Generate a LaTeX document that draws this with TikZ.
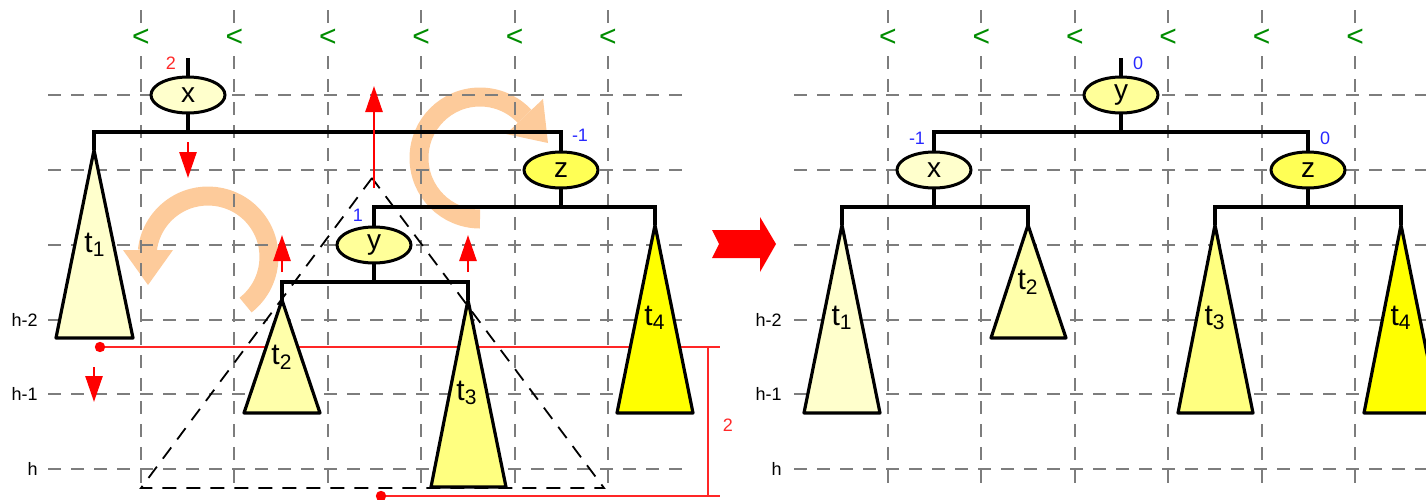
\documentclass[tikz,border=0pt]{standalone}
\usepackage{fontspec}
\setmainfont{Liberation Sans}
\usetikzlibrary{arrows.meta, positioning, shapes.geometric}

\definecolor{peach}{RGB}{253,203,155}
\definecolor{gridgray}{RGB}{125,125,125}
\definecolor{tone1}{RGB}{255,255,204}
\definecolor{tone2}{RGB}{255,255,170}
\definecolor{tone3}{RGB}{255,255,128}
\definecolor{tone4}{RGB}{255,255,0}
\definecolor{nodex}{RGB}{255,255,204}
\definecolor{nodey}{RGB}{255,255,153}
\definecolor{nodez}{RGB}{255,255,85}
\definecolor{bfblue}{RGB}{40,40,255}
\definecolor{bfred}{RGB}{255,40,40}
\definecolor{lessgreen}{RGB}{0,140,0}

\begin{document}
\begin{tikzpicture}[
    x=0.5pt, y=-0.5pt,
    avlnode/.style={ellipse, draw, line width=1.5pt, minimum width=37pt, minimum height=18pt, inner sep=0pt, outer sep=0pt, font=\fontsize{14}{14}\selectfont},
    branch/.style={line width=1.6pt},
    subtree/.style={draw, line width=1.6pt, line join=round},
    tlabel/.style={inner sep=0pt, font=\fontsize{15}{15}\selectfont},
    bf/.style={inner sep=0pt, font=\fontsize{9}{9}\selectfont},
    heightlab/.style={inner sep=0pt, anchor=east, font=\fontsize{9}{9}\selectfont},
    gridline/.style={draw=gridgray, line width=1pt, dash pattern=on 6.5pt off 5pt},
    lessmark/.style={text=lessgreen, fill=white, inner sep=0.5pt, font=\fontsize{15}{15}\selectfont},
    hint/.style={draw=red, line width=1.3pt, -{Triangle[length=13pt, width=8.5pt]}},
    rotarrow/.style={draw=peach, line width=9.5pt},
    dimline/.style={draw=red!85!white, line width=0.8pt}
]
    \useasboundingbox (0,0) rectangle (1426,499);

    % rotation hints
    \draw[rotarrow] ([shift={(-52:30.5pt)}]208,257) arc[start angle=-52, end angle=174, radius=30.5pt];
    \fill[peach] (123,250) -- (173,250) -- (148,285) -- cycle;
    \draw[rotarrow] ([shift={(270:30.5pt)}]480,158) arc[start angle=270, end angle=43, radius=30.5pt];
    \fill[peach] (543,99) -- (506,134) -- (548,143) -- cycle;

    % grid
    \foreach \gx [count=\i] in {141,234.4,327.8,421.2,514.6,608,888,981.4,1074.8,1168.2,1261.6,1355} {
        \draw[gridline] (\gx,10) -- (\gx,485);
        \node[lessmark] (less\i) at (\gx,38) {\textless};
    }
    \foreach \gy in {95,170,245,319.5,394,469} {
        \draw[gridline] (48,\gy) -- (690,\gy);
        \draw[gridline] (794,\gy) -- (1426,\gy);
    }
    \node[heightlab] (hl2) at (38,320) {h-2};
    \node[heightlab] (hl1) at (38,394) {h-1};
    \node[heightlab] (hl0) at (38,469) {h};
    \node[heightlab] (hr2) at (782,320) {h-2};
    \node[heightlab] (hr1) at (782,394) {h-1};
    \node[heightlab] (hr0) at (782,469) {h};

    % height difference
    \coordinate (dimtopl) at (100,347);
    \coordinate (dimtopr) at (720,347);
    \coordinate (dimbotl) at (381,496);
    \coordinate (dimbotr) at (720,496);
    \draw[dimline] (dimtopl) -- (dimtopr);
    \draw[dimline] (dimbotl) -- (dimbotr);
    \draw[dimline] (dimtopr) ++(-12,0) -- ++(0,149);
    \fill[red] (dimtopl) circle[radius=2.6pt];
    \fill[red] (dimbotl) circle[radius=2.6pt];
    \node[bf, text=bfred] (dimlab) at (728,425) {2};

    \draw[line width=0.9pt, dash pattern=on 7pt off 5pt] (372,178) -- (141,488) -- (604,488) -- cycle;

    % before: unbalanced at x
    \draw[subtree, fill=tone1] (94,150) coordinate (t1l) -- (56,338) -- (133,338) -- cycle;
    \draw[subtree, fill=tone2] (282,300) coordinate (t2l) -- (244,413) -- (320,413) -- cycle;
    \draw[subtree, fill=tone3] (468,300) coordinate (t3l) -- (431,487) -- (506,487) -- cycle;
    \draw[subtree, fill=tone4] (655,225) coordinate (t4l) -- (617,413) -- (693,413) -- cycle;
    \node[tlabel] (t1llab) at (95,245) {t\textsubscript{1}};
    \node[tlabel] (t2llab) at (282,357) {t\textsubscript{2}};
    \node[tlabel] (t3llab) at (467,393) {t\textsubscript{3}};
    \node[tlabel] (t4llab) at (655,318) {t\textsubscript{4}};

    \coordinate (topl) at (188,58);
    \node[avlnode, fill=nodex] (xl) at (188,95) {x};
    \node[avlnode, fill=nodez] (zl) at (561,170) {z};
    \node[avlnode, fill=nodey] (yl) at (374,245) {y};
    \draw[branch] (topl) -- (xl);
    \draw[branch] (xl.south) -- ++(0,19);
    \draw[branch] (t1l) -- ++(0,-18) -| (zl.north);
    \draw[branch] (zl.south) -- ++(0,19);
    \draw[branch] (yl.north) -- ++(0,-20) -| (t4l);
    \draw[branch] (yl.south) -- ++(0,19);
    \draw[branch] (t2l) -- ++(0,-18) -| (t3l);
    \node[bf, text=bfred] (bfxl) at (171,63) {2};
    \node[bf, text=bfblue] (bfzl) at (580,135) {-1};
    \node[bf, text=bfblue] (bfyl) at (358,215) {1};

    \draw[hint] (188,142) -- ++(0,36);
    \draw[hint] (94,367) -- ++(0,35);
    \draw[hint] (282,272) -- ++(0,-37);
    \draw[hint] (468,272) -- ++(0,-37);
    \draw[hint] (374,188) -- ++(0,-102);

    \fill[red] (712,230) -- (760,230) -- (760,217) -- (776,244) -- (760,272) -- (760,258) -- (712,258) -- (719,244) -- cycle;

    % after: y on top
    \draw[subtree, fill=tone1] (842,225) coordinate (t1r) -- (804,413) -- (880,413) -- cycle;
    \draw[subtree, fill=tone2] (1028,225) coordinate (t2r) -- (991,338) -- (1066,338) -- cycle;
    \draw[subtree, fill=tone3] (1215,225) coordinate (t3r) -- (1178,413) -- (1253,413) -- cycle;
    \draw[subtree, fill=tone4] (1401,225) coordinate (t4r) -- (1364,413) -- (1439,413) -- cycle;
    \node[tlabel] (t1rlab) at (842,318) {t\textsubscript{1}};
    \node[tlabel] (t2rlab) at (1028,282) {t\textsubscript{2}};
    \node[tlabel] (t3rlab) at (1215,318) {t\textsubscript{3}};
    \node[tlabel] (t4rlab) at (1401,318) {t\textsubscript{4}};

    \coordinate (topr) at (1121,58);
    \node[avlnode, fill=nodey] (yr) at (1121,95) {y};
    \node[avlnode, fill=nodex] (xr) at (934,170) {x};
    \node[avlnode, fill=nodez] (zr) at (1308,170) {z};
    \draw[branch] (topr) -- (yr);
    \draw[branch] (yr.south) -- ++(0,19);
    \draw[branch] (xr.north) -- ++(0,-20) -| (zr.north);
    \draw[branch] (xr.south) -- ++(0,19);
    \draw[branch] (t1r) -- ++(0,-18) -| (t2r);
    \draw[branch] (zr.south) -- ++(0,19);
    \draw[branch] (t3r) -- ++(0,-18) -| (t4r);
    \node[bf, text=bfblue] (bfyr) at (1138,63) {0};
    \node[bf, text=bfblue] (bfxr) at (917,138) {-1};
    \node[bf, text=bfblue] (bfzr) at (1325,138) {0};
\end{tikzpicture}
\end{document}
